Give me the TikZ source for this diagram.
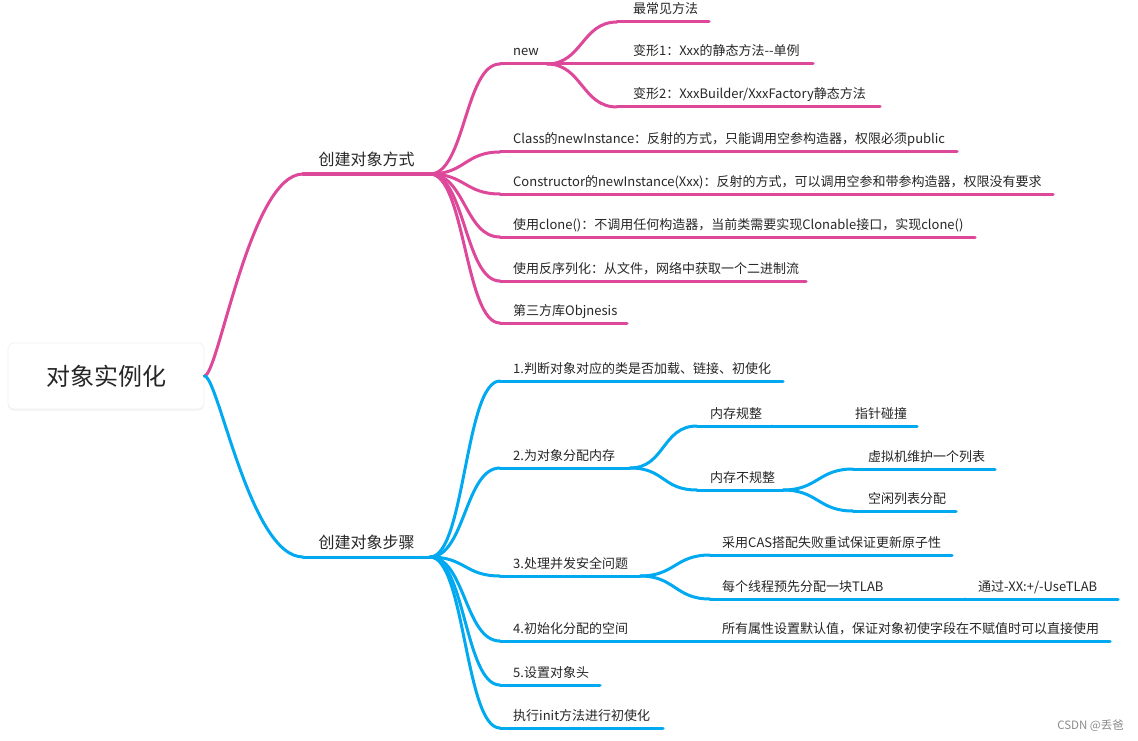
\documentclass[tikz,border=0pt]{standalone}
\usepackage{fontspec}
\setmainfont{Noto Sans CJK SC}
\usetikzlibrary{calc,shadows}
\definecolor{pk}{RGB}{221,72,154}
\definecolor{bl}{RGB}{0,169,240}
\definecolor{txt}{RGB}{38,38,38}
% topic: name, x start, x end, line y, text x, line style, text
\newcommand\tp[7]{%
  \coordinate (#1-s) at (#2,#4);
  \coordinate (#1-e) at (#3,#4);
  \draw[#6] (#1-s) -- (#1-e);
  \node[lbl] (#1) at (#5,#4) {#7};}
% main topic: name, x start, x end, line y, line style, text
\newcommand\hd[6]{%
  \coordinate (#1-s) at (#2,#4);
  \coordinate (#1-e) at (#3,#4);
  \draw[#5] (#1-s) -- (#1-e);
  \node[hdl] (#1) at ($(#1-s)!0.5!(#1-e)$) {#6};}
% connector
\newcommand\lk[3]{\draw[#1] (#2) .. controls +(35,0) and +(-35,0) .. (#3);}
\begin{document}
\begin{tikzpicture}[x=1pt,y=-1pt,
  pkl/.style={draw=pk,line width=3pt,line cap=round},
  bll/.style={draw=bl,line width=3pt,line cap=round},
  lbl/.style={anchor=base west,inner sep=0pt,yshift=8pt,text=txt,font=\fontsize{13}{15}\selectfont},
  hdl/.style={anchor=base,inner sep=0pt,yshift=9pt,text=txt,font=\fontsize{16}{19}\selectfont},
  rootbox/.style={draw=black!5,line width=0.8pt,fill=white,rounded corners=6pt,
    minimum width=196pt,minimum height=66pt,text=txt,font=\fontsize{24}{28}\selectfont,
    drop shadow={shadow xshift=0pt,shadow yshift=-1.5pt,opacity=0.10}},
  wm/.style={text=black!45,font=\fontsize{11.5}{13}\selectfont,inner sep=0pt}]
\useasboundingbox[fill=white] (0,0) rectangle (1138,741);

\node[rootbox] (root) at (106,376) {对象实例化};

% ---------- pink branch ----------
\hd{p1}{303}{430}{174}{pkl}{创建对象方式}
\draw[pkl] (root.east) .. controls +(14,0) and +(-53,0) .. (p1-s);

\tp{new}{500}{547}{64}{513}{pkl}{new}
\tp{n1}{617}{709}{22}{633}{pkl}{最常见方法}
\tp{n2}{617}{813}{64}{633}{pkl}{变形1：Xxx的静态方法-{}-单例}
\tp{n3}{617}{880}{107}{633}{pkl}{变形2：XxxBuilder/XxxFactory静态方法}
\tp{c1}{500}{957}{152}{513}{pkl}{Class的newInstance：反射的方式，只能调用空参构造器，权限必须public}
\tp{c2}{500}{1053}{194}{513}{pkl}{Constructor的newInstance(Xxx)：反射的方式，可以调用空参和带参构造器，权限没有要求}
\tp{c3}{500}{975}{237}{513}{pkl}{使用clone()：不调用任何构造器，当前类需要实现Clonable接口，实现clone()}
\tp{c4}{500}{806}{281}{513}{pkl}{使用反序列化：从文件，网络中获取一个二进制流}
\tp{c5}{500}{627}{323}{513}{pkl}{第三方库Objnesis}

\lk{pkl}{p1-e}{new-s}
\lk{pkl}{p1-e}{c1-s}
\lk{pkl}{p1-e}{c2-s}
\lk{pkl}{p1-e}{c3-s}
\lk{pkl}{p1-e}{c4-s}
\lk{pkl}{p1-e}{c5-s}
\lk{pkl}{new-e}{n1-s}
\lk{pkl}{new-e}{n2-s}
\lk{pkl}{new-e}{n3-s}

% ---------- blue branch ----------
\hd{p2}{303}{430}{557}{bll}{创建对象步骤}
\draw[bll] (root.east) .. controls +(14,0) and +(-53,0) .. (p2-s);

\tp{s1}{500}{783}{381}{513}{bll}{1.判断对象对应的类是否加载、链接、初使化}
\tp{s2}{500}{630}{468}{513}{bll}{2.为对象分配内存}
\tp{m1}{697}{772}{426}{710}{bll}{内存规整}
\tp{m1a}{772}{917}{426}{855}{bll}{指针碰撞}
\tp{m2}{697}{783}{490}{710}{bll}{内存不规整}
\tp{m2a}{853}{995}{469}{868}{bll}{虚拟机维护一个列表}
\tp{m2b}{853}{956}{511}{868}{bll}{空闲列表分配}
\tp{s3}{500}{640}{576}{513}{bll}{3.处理并发安全问题}
\tp{t1}{710}{952}{555}{722}{bll}{采用CAS搭配失败重试保证更新原子性}
\tp{t2}{710}{965}{599}{722}{bll}{每个线程预先分配一块TLAB}
\tp{t2a}{965}{1118}{599}{978}{bll}{通过-XX:+/-UseTLAB}
\tp{s4}{500}{652}{641}{513}{bll}{4.初始化分配的空间}
\tp{u1}{710}{1110}{641}{722}{bll}{所有属性设置默认值，保证对象初使字段在不赋值时可以直接使用}
\tp{s5}{500}{600}{685}{513}{bll}{5.设置对象头}
\tp{s6}{500}{663}{728}{513}{bll}{执行init方法进行初使化}

\lk{bll}{p2-e}{s1-s}
\lk{bll}{p2-e}{s2-s}
\lk{bll}{p2-e}{s3-s}
\lk{bll}{p2-e}{s4-s}
\lk{bll}{p2-e}{s5-s}
\lk{bll}{p2-e}{s6-s}
\lk{bll}{s2-e}{m1-s}
\lk{bll}{s2-e}{m2-s}
\draw[bll] (m1-e) -- (m1a-s);
\lk{bll}{m2-e}{m2a-s}
\lk{bll}{m2-e}{m2b-s}
\lk{bll}{s3-e}{t1-s}
\lk{bll}{s3-e}{t2-s}
\draw[bll] (t2-e) -- (t2a-s);
\draw[bll] (s4-e) -- (u1-s);

\node[wm,anchor=east] (wmk) at (1124,726) {CSDN @丢爸};
\end{tikzpicture}
\end{document}
